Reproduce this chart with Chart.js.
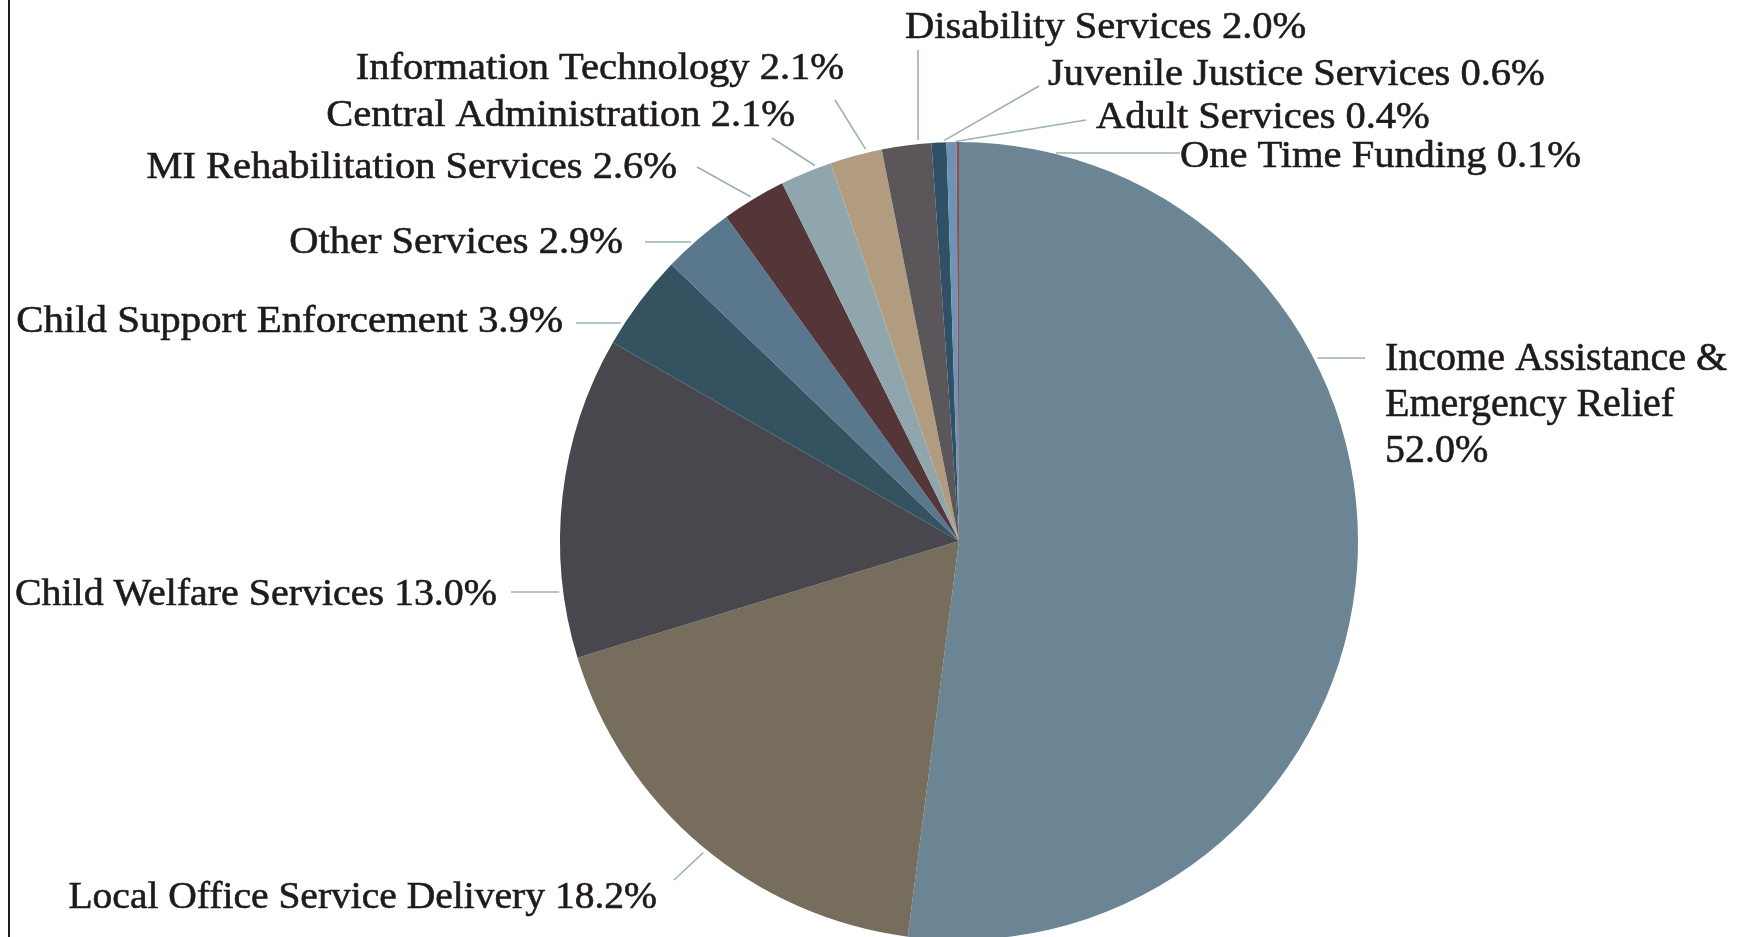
<!DOCTYPE html>
<html>
<head>
<meta charset="utf-8">
<script src="https://cdn.jsdelivr.net/npm/chart.js@4/dist/chart.umd.min.js"></script>
<style>
  html, body { margin:0; padding:0; background:#ffffff; overflow:hidden; }
  #wrap { position:relative; width:1739px; height:937px; overflow:hidden; }
  #edge { position:absolute; left:8px; top:0; width:2px; height:937px; background:#1e1e1e; }
  canvas { position:absolute; left:0; top:0; }
</style>
</head>
<body>
<div id="wrap">
  <canvas id="c" width="1739" height="950"></canvas>
  <div id="edge"></div>
</div>
<script>
// ---- data ----
const categories = [
  "Income Assistance & Emergency Relief",
  "Local Office Service Delivery",
  "Child Welfare Services",
  "Child Support Enforcement",
  "Other Services",
  "MI Rehabilitation Services",
  "Central Administration",
  "Information Technology",
  "Disability Services",
  "Juvenile Justice Services",
  "Adult Services",
  "One Time Funding"
];
const values = [52.0, 18.2, 13.0, 3.9, 2.9, 2.6, 2.1, 2.1, 2.0, 0.6, 0.4, 0.1];

// ---- styles ----
const sliceColors = [
  "#6b8594", "#766d5c", "#48474d", "#34525f", "#5a788d", "#553638",
  "#8fa6ad", "#b29c80", "#5a5659", "#2f5065", "#6f93b5", "#8a5050"
];

// label layout: anchor x (left or right edge), baseline y, leader (slice fraction + label-side end)
const labelLayout = [
  { x:1385, y:370, align:"left",  size:40, sx:1.0,   wrap:true, lh:46, frac:0.3346, end:[1365,358] },
  { x:657,  y:908, align:"right", size:38, sx:1.04,  frac:0.4866, end:[674,880] },
  { x:497,  y:605, align:"right", size:38, sx:1.05,  frac:0.2068, end:[511,592] },
  { x:563,  y:332, align:"right", size:38, sx:1.075, frac:0.235,  end:[576,323] },
  { x:623,  y:253, align:"right", size:38, sx:1.065, frac:0.447,  end:[645,242] },
  { x:677,  y:178, align:"right", size:38, sx:1.065, frac:0.51,   end:[697,167] },
  { x:795,  y:126, align:"right", size:38, sx:1.065, frac:0.746,  end:[772,138] },
  { x:844,  y:79,  align:"right", size:38, sx:1.065, frac:0.727,  end:[835,100] },
  { x:905,  y:38,  align:"left",  size:38, sx:1.065, frac:0.734,  end:[918,50] },
  { x:1048, y:85,  align:"left",  size:38, sx:1.065, frac:0.63,   end:[1039,86] },
  { x:1096, y:128, align:"left",  size:38, sx:1.065, frac:0.5,    end:[1086,120] },
  { x:1180, y:167, align:"left",  size:38, sx:1.065, frac:null,   end:[1180,153] }
];

const labelPlugin = {
  id: "sliceLabels",
  afterDatasetsDraw(chart) {
    const ctx = chart.ctx;
    const meta = chart.getDatasetMeta(0);
    meta.data.forEach((arc, i) => {
      const L = labelLayout[i];
      const p = arc.getProps(["x","y","outerRadius","startAngle","endAngle"], true);
      const [ex, ey] = L.end;
      let sx, sy;
      if (L.frac !== null) {
        const a = p.startAngle + (p.endAngle - p.startAngle) * L.frac;
        sx = p.x + p.outerRadius * Math.cos(a);
        sy = p.y + p.outerRadius * Math.sin(a);
      } else {
        const dy = ey - p.y;
        const dx = Math.sqrt(Math.max(p.outerRadius * p.outerRadius - dy * dy, 0));
        sx = p.x + (ex > p.x ? dx : -dx);
        sy = ey;
      }
      const len = Math.hypot(ex - sx, ey - sy);
      const gap = 4;
      const gx = sx + (ex - sx) / len * gap, gy = sy + (ey - sy) / len * gap;
      ctx.save();
      ctx.strokeStyle = "#9db0b5";
      ctx.lineWidth = 1.6;
      ctx.beginPath();
      ctx.moveTo(gx, gy);
      ctx.lineTo(ex, ey);
      ctx.stroke();
      ctx.restore();

      const pct = values[i].toFixed(1) + "%";
      let lines;
      if (L.wrap) {
        const cat = categories[i];
        const k = cat.indexOf("&") + 1;
        lines = [cat.slice(0, k), cat.slice(k + 1), pct];
      } else {
        lines = [categories[i] + " " + pct];
      }
      ctx.save();
      ctx.fillStyle = "#1f1a1c";
      ctx.strokeStyle = "#1f1a1c";
      ctx.lineWidth = 0.6;
      ctx.font = L.size + "px 'Liberation Serif', 'Times New Roman', serif";
      ctx.textBaseline = "alphabetic";
      ctx.textAlign = "left";
      lines.forEach((t, j) => {
        const w = ctx.measureText(t).width * L.sx;
        const lx = L.align === "right" ? L.x - w : L.x;
        ctx.save();
        ctx.translate(lx, L.y + j * (L.lh || 0));
        ctx.scale(L.sx, 1);
        ctx.fillText(t, 0, 0);
        ctx.strokeText(t, 0, 0);
        ctx.restore();
      });
      ctx.restore();
    });
  }
};

new Chart(document.getElementById("c"), {
  type: "pie",
  data: {
    labels: categories,
    datasets: [{
      data: values,
      backgroundColor: sliceColors,
      borderWidth: 0
    }]
  },
  options: {
    responsive: false,
    animation: false,
    layout: { padding: { left: 560, right: 381, top: 142, bottom: 10 } },
    plugins: { legend: { display: false }, tooltip: { enabled: false } }
  },
  plugins: [labelPlugin]
});
</script>
</body>
</html>
